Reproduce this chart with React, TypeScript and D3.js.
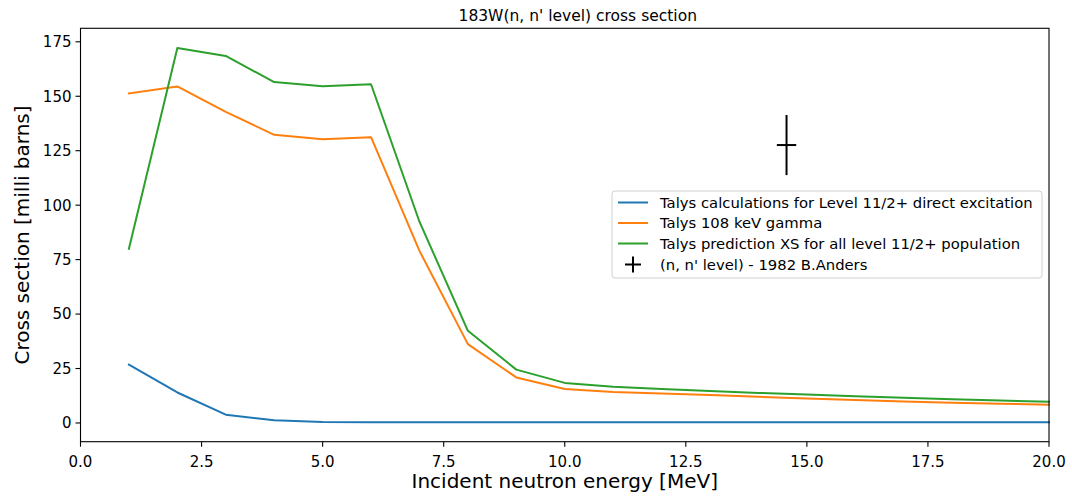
import React from "react";
import * as d3 from "d3";

const energies = [1, 2, 3, 4, 5, 6, 7, 8, 9, 10, 11, 12, 13, 14, 15, 16, 17, 18, 19, 20];
const directExcitation = [26.8, 14.0, 3.8, 1.2, 0.5, 0.35, 0.3, 0.3, 0.3, 0.3, 0.3, 0.3, 0.3, 0.3, 0.3, 0.3, 0.3, 0.3, 0.3, 0.3];
const gamma108 = [151.3, 154.5, 142.8, 132.3, 130.3, 131.2, 79.0, 36.2, 20.9, 15.6, 14.2, 13.5, 12.8, 12.0, 11.2, 10.5, 9.8, 9.3, 8.8, 8.4];
const allLevel = [80.0, 172.2, 168.5, 156.5, 154.6, 155.5, 92.4, 42.3, 24.5, 18.4, 16.6, 15.6, 14.7, 13.8, 13.1, 12.3, 11.6, 10.9, 10.3, 9.7];
const expX = [14.58];
const expY = [127.6];
const expXErr = [0.2];
const expYErr = [13.8];

const xTicks = [0, 2.5, 5, 7.5, 10, 12.5, 15, 17.5, 20];
const yTicks = [0, 25, 50, 75, 100, 125, 150, 175];

const seriesNames = [
  "Talys calculations for Level 11/2+ direct excitation",
  "Talys 108 keV gamma",
  "Talys prediction XS for all level 11/2+ population",
  "(n, n' level) - 1982 B.Anders",
];
const colors = ["#1f77b4", "#ff7f0e", "#2ca02c", "#000000"];

const W = 1072;
const H = 497;
const L = 80.5, R = 1049, T = 28.3, B = 441.7;
const FONT = "DejaVu Sans, sans-serif";

export default function App() {
  const x = d3.scaleLinear().domain([0, 20]).range([L, R]);
  const y = d3.scaleLinear().domain([-8.6, 181.2]).range([B, T]);
  const line = d3
    .line<number>()
    .x((_, i) => x(energies[i]))
    .y((d) => y(d));
  const series = [directExcitation, gamma108, allLevel];

  const legX = 612, legY = 191, legW = 430, legH = 87;
  const rowY = [202.5, 223, 243.5, 264.5];

  return (
    <svg width={W} height={H} style={{ position: "absolute", left: 0, top: 0, background: "#fff" }} fontFamily={FONT}>
      <rect x={0} y={0} width={W} height={H} fill="#fff" />
      {series.map((s, i) => (
        <path key={i} d={line(s) || ""} fill="none" stroke={colors[i]} strokeWidth={2} strokeLinejoin="round" strokeLinecap="square" />
      ))}
      {expX.map((ex, i) => (
        <g key={"e" + i} stroke="#000" strokeWidth={2}>
          <line x1={x(ex - expXErr[i])} x2={x(ex + expXErr[i])} y1={y(expY[i])} y2={y(expY[i])} />
          <line x1={x(ex)} x2={x(ex)} y1={y(expY[i] - expYErr[i])} y2={y(expY[i] + expYErr[i])} />
        </g>
      ))}
      <rect x={L} y={T} width={R - L} height={B - T} fill="none" stroke="#000" strokeWidth={1.1} />
      {xTicks.map((t) => (
        <g key={"x" + t}>
          <line x1={x(t)} x2={x(t)} y1={B} y2={B + 5} stroke="#000" strokeWidth={1.1} />
          <text x={x(t)} y={B + 25} textAnchor="middle" fontSize={15} fill="#000">
            {t.toFixed(1)}
          </text>
        </g>
      ))}
      {yTicks.map((t) => (
        <g key={"y" + t}>
          <line x1={L - 5} x2={L} y1={y(t)} y2={y(t)} stroke="#000" strokeWidth={1.1} />
          <text x={L - 9} y={y(t)} dy="0.36em" textAnchor="end" fontSize={15} fill="#000">
            {t}
          </text>
        </g>
      ))}
      <text x={(L + R) / 2 + 13} y={21} textAnchor="middle" fontSize={15.5} fill="#000">
        183W(n, n' level) cross section
      </text>
      <text x={(L + R) / 2} y={488} textAnchor="middle" fontSize={20} fill="#000">
        Incident neutron energy [MeV]
      </text>
      <text transform={`translate(29,${(T + B) / 2}) rotate(-90)`} textAnchor="middle" fontSize={20} fill="#000">
        Cross section [milli barns]
      </text>
      <rect x={legX} y={legY} width={legW} height={legH} rx={3} fill="#fff" fillOpacity={0.8} stroke="#d0d0d0" strokeWidth={1} />
      {seriesNames.map((n, i) => (
        <g key={"l" + i}>
          {i < 3 ? (
            <line x1={618} x2={648} y1={rowY[i]} y2={rowY[i]} stroke={colors[i]} strokeWidth={2} />
          ) : (
            <g stroke="#000" strokeWidth={2}>
              <line x1={625} x2={641} y1={rowY[i]} y2={rowY[i]} />
              <line x1={633} x2={633} y1={rowY[i] - 8} y2={rowY[i] + 8} />
            </g>
          )}
          <text x={660} y={rowY[i]} dy="0.36em" fontSize={14.8} fill="#000">
            {n}
          </text>
        </g>
      ))}
    </svg>
  );
}
